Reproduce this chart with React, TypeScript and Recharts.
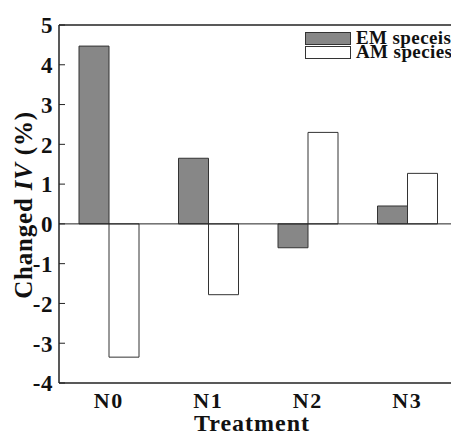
import React from 'react';
import { BarChart, Bar, XAxis, YAxis, ReferenceLine } from 'recharts';

const categories = ['N0', 'N1', 'N2', 'N3'];
const emValues = [4.47, 1.65, -0.6, 0.45];
const amValues = [-3.35, -1.78, 2.3, 1.27];
const yTicks = [-4, -3, -2, -1, 0, 1, 2, 3, 4, 5];
const seriesNames = ['EM speceis', 'AM species'];
const seriesColors = ['#878787', '#ffffff'];

const data = categories.map((c, i) => ({ name: c, em: emValues[i], am: amValues[i] }));

const FONT = '"Liberation Serif", "Times New Roman", serif';

const YTick = (props: any) => {
  const { x, y, payload } = props;
  return (
    <text x={x} y={y} dy="0.36em" textAnchor="end" fontFamily={FONT} fontWeight="bold" fontSize={23} letterSpacing={0.5} fill="#111">
      {payload.value}
    </text>
  );
};

const XTick = (props: any) => {
  const { x, y, payload } = props;
  return (
    <text x={x} y={y} dy="0.68em" textAnchor="middle" fontFamily={FONT} fontWeight="bold" fontSize={22} letterSpacing={1.5} fill="#111">
      {payload.value}
    </text>
  );
};

export default function App() {
  return (
    <div style={{ position: 'absolute', left: 0, top: 0, width: 451, height: 432, overflow: 'hidden', background: '#fff' }}>
      <BarChart
        width={460}
        height={432}
        data={data}
        margin={{ top: 25, right: 3, bottom: 0, left: 0 }}
        barSize={30}
        barGap={0}
      >
        <XAxis
          dataKey="name"
          tickLine={false}
          tickSize={0}
          tickMargin={10}
          axisLine={{ stroke: '#222', strokeWidth: 1.5 }}
          tick={<XTick />}
          height={49}
          label={(p: any) => (
            <text x={252} y={431} textAnchor="middle" fontFamily={FONT} fontWeight="bold" fontSize={24} letterSpacing={1} fill="#111">
              Treatment
            </text>
          )}
        />
        <YAxis
          domain={[-4, 5]}
          ticks={yTicks}
          width={59}
          tickSize={-6}
          tickMargin={12}
          interval={0}
          axisLine={{ stroke: '#222', strokeWidth: 1.5 }}
          tickLine={{ stroke: '#222', strokeWidth: 1 }}
          tick={<YTick />}
          label={(p: any) => (
            <text
              x={32}
              y={205}
              transform="rotate(-90, 32, 205)"
              textAnchor="middle"
              fontFamily={FONT}
              fontWeight="bold"
              fontSize={25}
              letterSpacing={0.8}
              fill="#111"
            >
              Changed <tspan fontStyle="italic">IV</tspan> (%)
            </text>
          )}
        />
        <ReferenceLine y={0} stroke="#222" strokeWidth={1} />
        <ReferenceLine y={5} stroke="#222" strokeWidth={1.5} />
        <Bar dataKey="em" name={seriesNames[0]} fill={seriesColors[0]} stroke="#333" strokeWidth={1} isAnimationActive={false} />
        <Bar dataKey="am" name={seriesNames[1]} fill={seriesColors[1]} stroke="#333" strokeWidth={1} isAnimationActive={false} />
      </BarChart>
      <div style={{ position: 'absolute', left: 305, top: 31, fontFamily: FONT, fontWeight: 'bold', fontSize: 19, letterSpacing: 0.4, color: '#111' }}>
        {seriesNames.map((n, i) => (
          <div key={n} style={{ display: 'flex', alignItems: 'center', height: 14 }}>
            <div style={{ width: 44, height: 11, background: seriesColors[i], border: '1px solid #333', marginRight: 5, flexShrink: 0 }} />
            <span style={{ lineHeight: '14px', whiteSpace: 'nowrap' }}>{n}</span>
          </div>
        ))}
      </div>
    </div>
  );
}
